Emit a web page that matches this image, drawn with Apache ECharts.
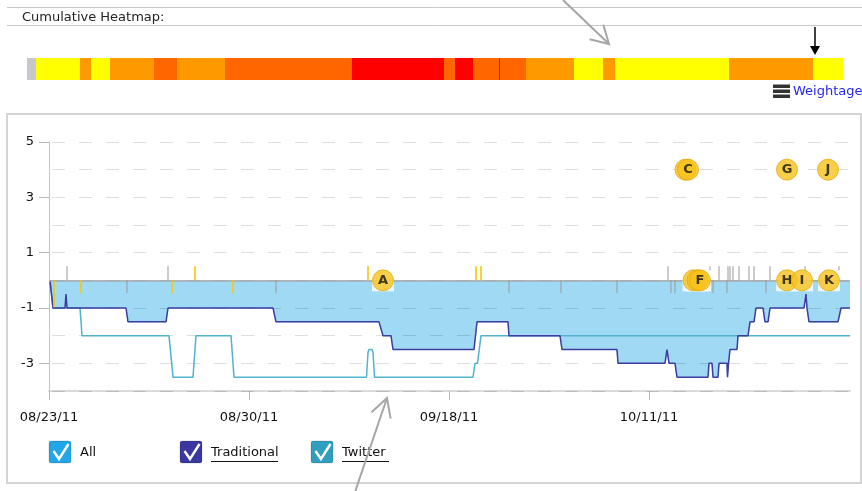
<!DOCTYPE html>
<html><head><meta charset="utf-8">
<script src="https://cdn.jsdelivr.net/npm/echarts@6/dist/echarts.min.js"></script>
<style>html,body{margin:0;padding:0;background:#fff}#c{width:862px;height:491px}</style>
</head><body><div id="c"></div>
<script>
// ---------- data (x = point index along the timeline) ----------
const dateLabels = ['08/23/11', '08/30/11', '09/18/11', '10/11/11'];
const dateLabelPos = [0, 200, 400, 600];
const yLabelValues = [5, 3, 1, -1, -3];

const allValues = [
  [1,0],[4,-1],[16,-1],[17,-0.5],[18,-1],
  [77,-1],[79,-1.5],[117,-1.5],[119,-1],
  [224,-1],[227,-1.5],[330,-1.5],[334,-2],[342,-2],[344,-2.5],
  [425,-2.5],[428,-1.5],[459,-1.5],[460,-2],[511,-2],[513,-2.5],
  [568,-2.5],[569,-3],[616,-3],[618,-2.5],[620,-3],[626,-3],[628,-3.5],
  [659,-3.5],[660,-3],[663,-3],[664,-3.5],[669,-3.5],[670,-3],[678,-3],[678.5,-3.5],[679.5,-3],
  [681,-2.5],[688,-2.5],[689,-2],[699,-2],[701,-1.5],[705,-1.5],[707,-1],[714,-1],[716,-1.5],
  [719,-1.5],[721,-1],[755,-1],[757,-0.5],[758,-1],[760,-1.5],[789,-1.5],[792,-1],[801,-1]
];
const traditional = [
  [1,0],[4,-1],[16,-1],[17,-0.5],[18,-1],
  [77,-1],[79,-1.5],[117,-1.5],[119,-1],
  [224,-1],[227,-1.5],[330,-1.5],[334,-2],[342,-2],[344,-2.5],
  [425,-2.5],[428,-1.5],[459,-1.5],[460,-2],[511,-2],[513,-2.5],
  [568,-2.5],[569,-3],[616,-3],[618,-2.5],[620,-3],[626,-3],[628,-3.5],
  [659,-3.5],[660,-3],[663,-3],[664,-3.5],[669,-3.5],[670,-3],[678,-3],[678.5,-3.5],[679.5,-3],
  [681,-2.5],[688,-2.5],[689,-2],[699,-2],[701,-1.5],[705,-1.5],[707,-1],[714,-1],[716,-1.5],
  [719,-1.5],[721,-1],[755,-1],[757,-0.5],[758,-1],[760,-1.5],[789,-1.5],[792,-1],[801,-1]
];
const twitter = [
  [1,0],[4,-1],[31,-1],[33,-2],[120,-2],[124,-3.5],[144,-3.5],[147,-2],[182,-2],[185,-3.5],
  [317.5,-3.5],[319,-2.6],[320,-2.5],[323,-2.5],[324,-2.6],[325.5,-3.5],
  [424,-3.5],[426,-3],[428.5,-3],[432,-2],[801,-2]
];

const grayTicksAbove = [18, 119, 619, 670, 679, 681, 684, 690, 700, 705, 721];
const grayTicksAboveShort = [661, 756, 790];
const grayTicksBelow = [78, 227, 460, 512, 568, 622, 626, 664, 678, 717];
const yellowTicksAbove = [146, 319, 427, 432];
const yellowTicksBelow = [32, 123, 184];
const yellowTicksLong = [5];

// events fully covered by others (only an edge shows)
const hiddenEventNames = ['B', 'D', 'E'];
const hiddenEventX     = [636.5, 644.5, 648.5];
const hiddenEventY     = [4, 0, 0];
// events partly covered
const backEventNames = ['H'];
const backEventX     = [738];
const backEventY     = [0];
// events on top
const frontEventNames = ['C', 'G', 'J', 'A', 'F', 'I', 'K'];
const frontEventX     = [639, 738, 779, 334, 651, 753, 780];
const frontEventY     = [4, 4, 4, 0, 0, 0, 0];

// cumulative heatmap: segment bounds and level (0 none,1 low .. 4 high)
const heatBounds = [0,9,53,64,83,127,150,198,325,417,428,446,472,473,499,547,576,588,702,786,816];
const heatLevels = [0,1,2,1,2,3,2,3,4,3,4,3,4,3,2,1,2,1,2,1];

const legendNames = ['All', 'Traditional', 'Twitter'];

// ---------- chart ----------
const FONT = 'DejaVu Sans';
const heatColors = ['#c8c8cc', '#ffff00', '#ff9900', '#ff6600', '#ff0000'];
const heatData = heatLevels.map((l, i) => [heatBounds[i], heatBounds[i + 1], l]);

const tickData = arr => arr.map(x => [x, 0]);
const mkEvents = (names, xs, ys) => names.map((n, i) => ({ name: n, value: [xs[i], ys[i]] }));
const hiddenEvents = mkEvents(hiddenEventNames, hiddenEventX, hiddenEventY);
const backEvents = mkEvents(backEventNames, backEventX, backEventY);
const frontEvents = mkEvents(frontEventNames, frontEventX, frontEventY);
const boxData = hiddenEvents.concat(backEvents, frontEvents).filter(d => d.value[1] === 0);

const chart = echarts.init(document.getElementById('c'), null, { renderer: 'canvas' });

function arrowHead(tip, from, len, ang) {
  const a = Math.atan2(from[1] - tip[1], from[0] - tip[0]);
  return [
    [tip[0] + len * Math.cos(a + ang), tip[1] + len * Math.sin(a + ang)],
    tip,
    [tip[0] + len * Math.cos(a - ang), tip[1] + len * Math.sin(a - ang)]
  ];
}

const legendColors = ['#22a6e8', '#3a389e', '#2f9ebf'];
const legendBoxX = [49, 180, 311];
const legendUnderline = [false, true, true];
const legendTextW = [0, 67, 47];
const legendGraphics = [];
legendNames.forEach((name, i) => {
  const x = legendBoxX[i], y = 441;
  legendGraphics.push({ type: 'rect', shape: { x: x, y: y, width: 22, height: 22, r: 2 },
    style: { fill: legendColors[i], stroke: 'rgba(0,0,0,0.15)', lineWidth: 1 } });
  legendGraphics.push({ type: 'polyline', shape: { points: [[x + 4.5, y + 10], [x + 10, y + 18], [x + 19.5, y + 3]] },
    style: { stroke: '#fff', lineWidth: 2.4, fill: 'none' } });
  legendGraphics.push({ type: 'text', x: x + 31, y: 453,
    style: { text: name, font: '13px ' + FONT, fill: '#111', verticalAlign: 'middle', align: 'left' } });
  if (legendUnderline[i]) {
    legendGraphics.push({ type: 'line', shape: { x1: x + 31, y1: 461.5, x2: x + 31 + legendTextW[i], y2: 461.5 },
      style: { stroke: '#111', lineWidth: 1 } });
  }
});

const topArrowTip = [609, 44], topArrowFrom = [563, 0];
const botArrowTip = [387, 398], botArrowFrom = [355, 492];

const eventStyle = (z, showLabel) => ({
  type: 'scatter', xAxisIndex: 0, yAxisIndex: 0, z: z, silent: true,
  symbol: 'circle', symbolSize: 21,
  itemStyle: { color: '#f8c21c', borderColor: '#e3a90c', borderWidth: 1 },
  label: { show: showLabel, position: 'inside', formatter: p => p.name, color: '#111',
    fontFamily: FONT, fontSize: 13, fontWeight: 'bold' }
});

const option = {
  animation: false,
  backgroundColor: '#fff',
  grid: [
    { left: 49, top: 142, width: 801, height: 249 },
    { left: 27, top: 58, width: 816, height: 22 }
  ],
  xAxis: [
    { type: 'value', gridIndex: 0, min: 0, max: 801,
      axisLine: { show: true, onZero: false, lineStyle: { color: '#dadada', width: 2 } },
      axisTick: { show: true, customValues: dateLabelPos, length: 9, lineStyle: { color: '#b8b8b8' } },
      axisLabel: { customValues: dateLabelPos, formatter: v => dateLabels[dateLabelPos.indexOf(v)] || '',
        color: '#111', fontFamily: FONT, fontSize: 13, margin: 20 },
      splitLine: { show: false } },
    { type: 'value', gridIndex: 1, min: 0, max: 816, show: false }
  ],
  yAxis: [
    { type: 'value', gridIndex: 0, min: -4, max: 5, interval: 1, z: 2,
      axisLine: { show: true, onZero: false, lineStyle: { color: '#c4c4c4' } },
      axisTick: { show: false }, axisLabel: { show: false },
      splitLine: { show: true, lineStyle: { color: 'rgba(0,0,0,0.13)', type: [13, 14], dashOffset: 24 } } },
    { type: 'value', gridIndex: 0, min: -4, max: 5, position: 'left',
      axisLine: { show: false, onZero: false },
      axisTick: { show: true, customValues: yLabelValues, length: 10, lineStyle: { color: '#b8b8b8' } },
      axisLabel: { customValues: yLabelValues, color: '#111', fontFamily: FONT, fontSize: 13, margin: 15 },
      splitLine: { show: false } },
    { type: 'value', gridIndex: 1, min: 0, max: 1, show: false }
  ],
  series: [
    { name: 'All', type: 'line', xAxisIndex: 0, yAxisIndex: 0, data: allValues, z: 1,
      symbol: 'none', lineStyle: { color: '#9fd9f4', width: 1 },
      areaStyle: { color: '#9fd9f4', opacity: 1 },
      markLine: { silent: true, symbol: ['none', 'none'], label: { show: false },
        lineStyle: { color: '#a9a9a9', type: 'solid', width: 1.5 }, data: [{ yAxis: 0 }] } },
    { name: 'Twitter', type: 'line', xAxisIndex: 0, yAxisIndex: 0, data: twitter, z: 3,
      symbol: 'none', lineStyle: { color: '#52b3cc', width: 1.5 } },
    { name: 'Traditional', type: 'line', xAxisIndex: 0, yAxisIndex: 0, data: traditional, z: 4,
      symbol: 'none', lineStyle: { color: '#3d3d9f', width: 1.5 } },
    { type: 'scatter', xAxisIndex: 0, yAxisIndex: 0, data: tickData(grayTicksAbove), z: 5, silent: true,
      symbol: 'rect', symbolSize: [1.3, 14], symbolOffset: [0, -7], itemStyle: { color: '#9c9c9c' } },
    { type: 'scatter', xAxisIndex: 0, yAxisIndex: 0, data: tickData(grayTicksAboveShort), z: 5, silent: true,
      symbol: 'rect', symbolSize: [1.3, 4], symbolOffset: [0, -12], itemStyle: { color: '#9c9c9c' } },
    { type: 'scatter', xAxisIndex: 0, yAxisIndex: 0, data: tickData(grayTicksBelow), z: 5, silent: true,
      symbol: 'rect', symbolSize: [1.3, 13], symbolOffset: [0, 6.5], itemStyle: { color: '#9c9c9c' } },
    { type: 'scatter', xAxisIndex: 0, yAxisIndex: 0, data: tickData(yellowTicksAbove), z: 5, silent: true,
      symbol: 'rect', symbolSize: [2, 14], symbolOffset: [0, -7], itemStyle: { color: '#f7c700' } },
    { type: 'scatter', xAxisIndex: 0, yAxisIndex: 0, data: tickData(yellowTicksBelow), z: 5, silent: true,
      symbol: 'rect', symbolSize: [2, 13], symbolOffset: [0, 6.5], itemStyle: { color: '#f7c700' } },
    { type: 'scatter', xAxisIndex: 0, yAxisIndex: 0, data: tickData(yellowTicksLong), z: 5, silent: true,
      symbol: 'rect', symbolSize: [2, 27], symbolOffset: [0, 13.5], itemStyle: { color: '#f7c700' } },
    { type: 'scatter', xAxisIndex: 0, yAxisIndex: 0, data: boxData, z: 6, silent: true,
      symbol: 'rect', symbolSize: [22, 11], symbolOffset: [0, 5.5], itemStyle: { color: '#ffffff' } },
    Object.assign(eventStyle(7, false), { data: hiddenEvents }),
    Object.assign(eventStyle(7.5, true), { data: backEvents }),
    Object.assign(eventStyle(8, true), { data: frontEvents }),
    { type: 'custom', xAxisIndex: 1, yAxisIndex: 2, data: heatData, silent: true,
      encode: { x: [0, 1] },
      renderItem: (params, api) => {
        const s = api.coord([api.value(0), 0]);
        const e = api.coord([api.value(1), 1]);
        return { type: 'rect', shape: { x: s[0], y: e[1], width: e[0] - s[0], height: s[1] - e[1] },
          style: { fill: heatColors[api.value(2)] } };
      } }
  ],
  graphic: [
    { type: 'line', silent: true, shape: { x1: 7, y1: 7.5, x2: 862, y2: 7.5 }, style: { stroke: '#c8c8c8', lineWidth: 1 } },
    { type: 'line', silent: true, shape: { x1: 7, y1: 25.5, x2: 862, y2: 25.5 }, style: { stroke: '#c8c8c8', lineWidth: 1 } },
    { type: 'text', silent: true, x: 22, y: 18, style: { text: 'Cumulative Heatmap:', font: '13px ' + FONT, fill: '#222', verticalAlign: 'middle' } },
    { type: 'rect', silent: true, z: -10, shape: { x: 7, y: 114, width: 854, height: 369 }, style: { fill: 'none', stroke: '#d4d4d4', lineWidth: 2 } },
    // weightage icon + link
    { type: 'rect', silent: true, shape: { x: 773, y: 84.5, width: 17, height: 3.5 }, style: { fill: '#333' } },
    { type: 'rect', silent: true, shape: { x: 773, y: 89.5, width: 17, height: 3.5 }, style: { fill: '#333' } },
    { type: 'rect', silent: true, shape: { x: 773, y: 94.5, width: 17, height: 3.5 }, style: { fill: '#333' } },
    { type: 'text', silent: true, x: 793, y: 92, style: { text: 'Weightage', font: '13px ' + FONT, fill: '#2626f0', verticalAlign: 'middle' } },
    // black marker arrow on heatmap
    { type: 'line', silent: true, shape: { x1: 815, y1: 27, x2: 815, y2: 48 }, style: { stroke: '#000', lineWidth: 1.5 } },
    { type: 'polygon', silent: true, shape: { points: [[810, 46], [820, 46], [815, 55]] }, style: { fill: '#000' } },
    // gray annotation arrows
    { type: 'line', silent: true, z: 100, shape: { x1: topArrowFrom[0], y1: topArrowFrom[1], x2: topArrowTip[0], y2: topArrowTip[1] }, style: { stroke: '#a6a6a6', lineWidth: 2 } },
    { type: 'polyline', silent: true, z: 100, shape: { points: arrowHead(topArrowTip, topArrowFrom, 20, 0.52) }, style: { stroke: '#a6a6a6', lineWidth: 2, fill: 'none' } },
    { type: 'line', silent: true, z: 100, shape: { x1: botArrowFrom[0], y1: botArrowFrom[1], x2: botArrowTip[0], y2: botArrowTip[1] }, style: { stroke: '#a6a6a6', lineWidth: 2 } },
    { type: 'polyline', silent: true, z: 100, shape: { points: arrowHead(botArrowTip, botArrowFrom, 21, 0.5) }, style: { stroke: '#a6a6a6', lineWidth: 2, fill: 'none' } }
  ].concat(legendGraphics)
};
chart.setOption(option);
</script></body></html>
